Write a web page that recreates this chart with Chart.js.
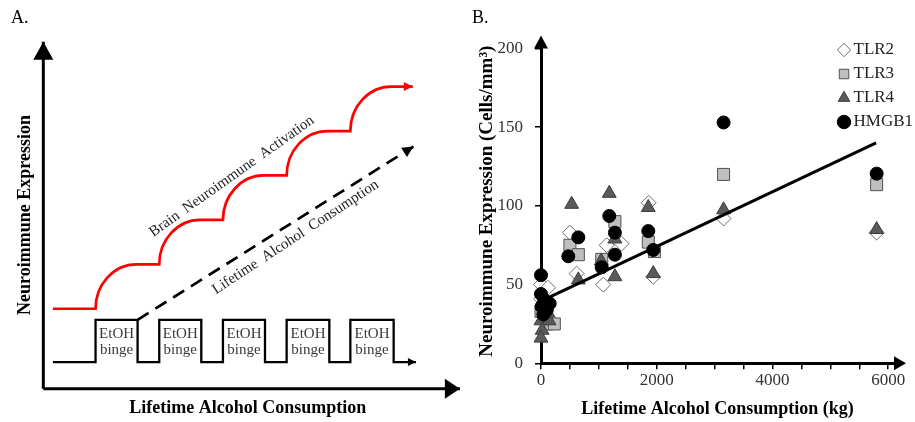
<!DOCTYPE html>
<html>
<head>
<meta charset="utf-8">
<script src="https://cdn.jsdelivr.net/npm/chart.js@4.4.1/dist/chart.umd.min.js"></script>
<style>
  html, body { margin: 0; padding: 0; background: #fff; }
  #wrap { position: relative; width: 915px; height: 422px; }
  #panelA { position: absolute; left: 0; top: 0; }
  #panelB { position: absolute; left: 465px; top: 0; }
</style>
</head>
<body>
<div id="wrap">
  <canvas id="panelA" width="465" height="422"></canvas>
  <canvas id="panelB" width="450" height="422"></canvas>
</div>
<script>
const SERIF = '"Liberation Serif", "Times New Roman", serif';
Chart.defaults.font.family = SERIF;

// Panel A - schematic, arbitrary units
const bingeStart = [1, 2, 3, 4, 5];
const bingeEnd = [1.66, 2.66, 3.66, 4.67, 5.68];
const bingeLevels = [0.6, 1.55];          // low, high
const waveRange = [0.33, 6.03];
const activationLevels = [1.8, 2.8, 3.8, 4.8, 5.8, 6.8];
const activationRange = [0.33, 5.98];
const riseWidth = 0.64;
const consumptionX = [1.66, 5.99];
const consumptionY = [1.55, 5.45];
const axisAX = [0.18, 6.72];
const axisAY = [0, 7.81];

// Panel B - scatter data (kg, cells/mm3)
const tlr2X = [0, 120, 0, 180, 60, 500, 615, 1077, 1135, 1390, 1860, 1940, 3155, 5800];
const tlr2Y = [50, 48, 41, 27, 36, 83, 57, 50, 75, 76, 102, 55, 92, 83];
const tlr3X = [0, 100, 230, 50, 500, 645, 1050, 1277, 1854, 1960, 3155, 5800];
const tlr3Y = [33, 25, 25, 38, 75, 69, 66, 90, 77, 71, 120, 113.5];
const tlr4X = [0, 140, 20, 0, 120, 530, 645, 1040, 1180, 1277, 1277, 1854, 1940, 3155, 5800];
const tlr4Y = [27, 27, 21, 16, 32, 101, 53, 65, 108, 55, 79, 99, 57, 97.5, 85];
const hmgb1X = [0, 0, 10, 60, 150, 40, 100, 472, 645, 1049, 1180, 1277, 1277, 1854, 1940, 3155, 5800];
const hmgb1Y = [56, 44, 36, 40, 38, 31, 34, 68, 80, 61, 93.6, 83, 69, 84, 72, 153, 120.5];
const trendX = [0, 5790];
const trendY = [39.5, 140];
const xTickValues = [0, 500, 1000, 1500, 2000, 2500, 3000, 3500, 4000, 4500, 5000, 5500, 6000];
const xLabelValues = [0, 2000, 4000, 6000];

const pairs = (xs, ys) => xs.map((x, i) => ({ x: x, y: ys[i] }));

// build the binge square wave and the stepped activation curve
const wave = [{ x: waveRange[0], y: bingeLevels[0] }];
bingeStart.forEach((s, i) => {
    wave.push({ x: s, y: bingeLevels[0] }, { x: s, y: bingeLevels[1] },
              { x: bingeEnd[i], y: bingeLevels[1] }, { x: bingeEnd[i], y: bingeLevels[0] });
});
wave.push({ x: waveRange[1], y: bingeLevels[0] });

const activation = [{ x: activationRange[0], y: activationLevels[0] }];
bingeStart.forEach((s, i) => {
    activation.push({ x: s, y: activationLevels[i] }, { x: s + riseWidth, y: activationLevels[i + 1] });
});
activation.push({ x: activationRange[1], y: activationLevels[activationLevels.length - 1] });

function arrowHead(ctx, from, tip, len, half, color) {
    const a = Math.atan2(tip.y - from.y, tip.x - from.x);
    ctx.save();
    ctx.translate(tip.x, tip.y);
    ctx.rotate(a);
    ctx.beginPath();
    ctx.moveTo(0, 0);
    ctx.lineTo(-len, -half);
    ctx.lineTo(-len, half);
    ctx.closePath();
    ctx.fillStyle = color;
    ctx.fill();
    ctx.restore();
}

function label(ctx, text, px, py, font, color, angle, baseline) {
    ctx.save();
    ctx.translate(px, py);
    ctx.rotate((angle || 0) * Math.PI / 180);
    ctx.font = font;
    ctx.fillStyle = color;
    ctx.textAlign = 'center';
    ctx.textBaseline = baseline || 'middle';
    ctx.fillText(text, 0, 0);
    ctx.restore();
}

const schematic = {
    id: 'schematic',
    afterDatasetsDraw(chart) {
        const { ctx, scales: { x, y } } = chart;
        chart.data.datasets.forEach((ds, i) => {
            const pts = chart.getDatasetMeta(i).data;
            if (ds.curvedSteps) {
                ctx.save();
                ctx.strokeStyle = ds.borderColor;
                ctx.lineWidth = ds.borderWidth;
                ctx.beginPath();
                ctx.moveTo(pts[0].x, pts[0].y);
                for (let k = 1; k < pts.length; k++) {
                    const p0 = pts[k - 1], p1 = pts[k];
                    if (Math.abs(p0.y - p1.y) > 0.5) {
                        ctx.bezierCurveTo(p0.x, p0.y + (p1.y - p0.y) * 0.55,
                                          p1.x - (p1.x - p0.x) * 0.55, p1.y, p1.x, p1.y);
                    } else {
                        ctx.lineTo(p1.x, p1.y);
                    }
                }
                ctx.stroke();
                ctx.restore();
            }
            if (ds.arrow) {
                const n = pts.length;
                arrowHead(ctx, pts[n - 2], pts[n - 1], ds.arrow[0], ds.arrow[1], ds.borderColor);
            }
        });

        bingeStart.forEach((s, i) => {
            const cx = x.getPixelForValue((s + bingeEnd[i]) / 2);
            label(ctx, 'EtOH', cx, y.getPixelForValue(1.134), '15px ' + SERIF, '#3a3a3a', 0, 'alphabetic');
            label(ctx, 'binge', cx, y.getPixelForValue(0.774), '15px ' + SERIF, '#3a3a3a', 0, 'alphabetic');
        });
        label(ctx, 'Brain  Neuroimmune  Activation', x.getPixelForValue(3.14), y.getPixelForValue(4.78),
              '15px ' + SERIF, '#222', -35.4);
        label(ctx, 'Lifetime  Alcohol  Consumption', x.getPixelForValue(4.14), y.getPixelForValue(3.41),
              '15px ' + SERIF, '#222', -33.4);
        label(ctx, 'Neuroimmune Expression', x.getPixelForValue(-0.108), y.getPixelForValue(3.91),
              'bold 18px ' + SERIF, '#000', -90);
        label(ctx, 'Lifetime Alcohol Consumption', x.getPixelForValue(3.39), y.getPixelForValue(-0.435),
              'bold 18px ' + SERIF, '#000', 0);
        ctx.save();
        ctx.font = '18px ' + SERIF;
        ctx.fillStyle = '#000';
        ctx.textBaseline = 'middle';
        ctx.fillText('A.', 11, 18);
        ctx.restore();
    }
};

new Chart(document.getElementById('panelA'), {
    type: 'scatter',
    data: {
        datasets: [
            { data: pairs([axisAX[0], axisAX[0]], axisAY), borderColor: '#000', borderWidth: 3, arrow: [18, 10] },
            { data: pairs(axisAX, [axisAY[0], axisAY[0]]), borderColor: '#000', borderWidth: 3, arrow: [15, 10] },
            { data: wave, borderColor: '#000', borderWidth: 2.3, borderJoinStyle: 'miter', arrow: [8, 4] },
            { data: pairs(consumptionX, consumptionY), borderColor: '#000', borderWidth: 2.7, borderDash: [13, 8], arrow: [11, 5.5] },
            { data: activation, borderColor: '#ff0000', borderWidth: 2.7, showLine: false, curvedSteps: true, arrow: [9, 4.5] }
        ].map(d => Object.assign({ showLine: true, pointRadius: 0, clip: false, tension: 0 }, d))
    },
    options: {
        responsive: false,
        animation: false,
        devicePixelRatio: 1,
        layout: { padding: 0 },
        plugins: { legend: { display: false }, tooltip: { enabled: false } },
        scales: {
            x: { type: 'linear', display: false, min: -0.5, max: 6.8 },
            y: { type: 'linear', display: false, min: -0.75, max: 8.75 }
        }
    },
    plugins: [schematic]
});

// Panel B
const axisArrows = {
    id: 'axisArrows',
    afterLayout(chart) {
        // legend sits inside the plot, top right
        const lg = chart.legend;
        lg.left = 371;
        lg.top = 34.5;
        lg.bottom = lg.top + 160;
        lg.right = lg.left + lg.width;
    },
    afterDraw(chart) {
        const { ctx, chartArea: a, scales: { x, y } } = chart;
        const x0 = x.getPixelForValue(0), y0 = y.getPixelForValue(0);
        arrowHead(ctx, { x: x0, y: a.top }, { x: x0, y: a.top - 13 }, 13, 7, '#000');
        arrowHead(ctx, { x: a.right, y: y0 }, { x: a.right + 12, y: y0 }, 12, 7, '#000');
        ctx.save();
        ctx.font = '18px ' + SERIF;
        ctx.fillStyle = '#000';
        ctx.textBaseline = 'middle';
        ctx.fillText('B.', 7, 18);
        ctx.restore();
    }
};

new Chart(document.getElementById('panelB'), {
    type: 'scatter',
    data: {
        datasets: [
            { label: 'TLR2', data: pairs(tlr2X, tlr2Y), pointStyle: 'rectRot', pointRadius: 7.5,
              backgroundColor: '#ffffff', borderColor: '#6e6e6e', borderWidth: 1, order: 4 },
            { label: 'TLR3', data: pairs(tlr3X, tlr3Y), pointStyle: 'rect', pointRadius: 8.5,
              backgroundColor: '#bfbfbf', borderColor: '#505050', borderWidth: 1, order: 3 },
            { label: 'TLR4', data: pairs(tlr4X, tlr4Y), pointStyle: 'triangle', pointRadius: 8,
              backgroundColor: '#5a5a5a', borderColor: '#3c3c3c', borderWidth: 1, order: 2 },
            { label: 'HMGB1', data: pairs(hmgb1X, hmgb1Y), pointStyle: 'circle', pointRadius: 6.5,
              backgroundColor: '#000000', borderColor: '#000000', borderWidth: 1, order: 1 },
            { label: 'trend', data: pairs(trendX, trendY), showLine: true, pointRadius: 0,
              borderColor: '#000', borderWidth: 3, order: 0 }
        ].map(d => Object.assign({ clip: false, pointHoverRadius: 0 }, d))
    },
    options: {
        responsive: false,
        animation: false,
        devicePixelRatio: 1,
        layout: { padding: { left: 0, right: 21, top: 48.5, bottom: 0 } },
        plugins: {
            tooltip: { enabled: false },
            legend: {
                position: 'chartArea',
                align: 'start',
                labels: {
                    usePointStyle: true,
                    boxWidth: 2,
                    boxHeight: 9.5,
                    padding: 7,
                    color: '#222',
                    font: { size: 17 },
                    filter: item => item.datasetIndex < 4,
                    sort: (a, b) => a.datasetIndex - b.datasetIndex
                }
            }
        },
        scales: {
            x: {
                type: 'linear',
                min: 0,
                max: 6100,
                afterFit: s => { s.height = 58.7; },
                afterBuildTicks: s => { s.ticks = xTickValues.map(v => ({ value: v })); },
                border: { color: '#000', width: 3 },
                grid: { drawOnChartArea: false, drawTicks: true, tickLength: 6, color: '#000', lineWidth: 1.5 },
                ticks: {
                    autoSkip: false, maxRotation: 0, padding: 1, color: '#333', font: { size: 17 },
                    callback: v => (xLabelValues.includes(v) ? String(v) : '')
                },
                title: { display: true, text: 'Lifetime Alcohol Consumption (kg)', color: '#000',
                         font: { size: 18, weight: 'bold' }, padding: { top: 0, bottom: 2 } }
            },
            y: {
                type: 'linear',
                min: 0,
                max: 200,
                afterFit: s => { s.width = 76; },
                border: { color: '#000', width: 3 },
                grid: { drawOnChartArea: false, drawTicks: true, tickLength: 6, color: '#000', lineWidth: 1.5 },
                ticks: { stepSize: 50, includeBounds: false, padding: 12, color: '#333', font: { size: 17 } },
                title: { display: true, text: '\u2002Neuroimmune Expression (Cells/mm³)', color: '#000',
                         font: { size: 19, weight: 'bold' }, padding: { top: 11, bottom: 0 } }
            }
        }
    },
    plugins: [axisArrows]
});
</script>
</body>
</html>
